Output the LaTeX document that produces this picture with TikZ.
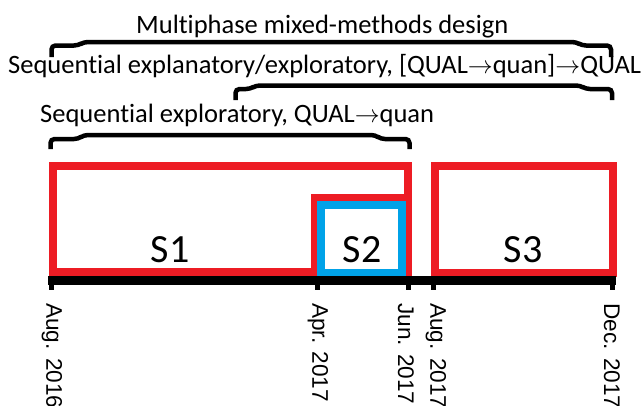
\documentclass[tikz,border=0pt]{standalone}
\usepackage{fontspec}
\setmainfont{Carlito}[Ligatures={NoCommon}]
\newfontfamily\datefont{Liberation Sans}
\definecolor{paintRed}{RGB}{237,28,36}
\definecolor{paintBlue}{RGB}{0,162,232}
\tikzset{
    heading/.style={inner sep=0pt, anchor=base west, font=\fontsize{26.5}{31}\selectfont},
    bracket/.style={line width=4.5pt, rounded corners=4pt},
    phase/.style={line width=8pt, paintRed},
    phaseTwo/.style={line width=8pt, paintBlue},
    stage/.style={inner sep=0pt, anchor=base, font=\fontsize{40}{48}\selectfont},
    datetick/.style={line width=5pt},
    datelabel/.style={inner sep=0pt, anchor=west, rotate=-90, font=\datefont\fontsize{22.6}{27}\selectfont}
}

\begin{document}
\begin{tikzpicture}[x=1pt, y=-1pt]
        \useasboundingbox (0,0) rectangle (641,405);
        % designs
        \node[heading] (multi) at (136,33) {Multiphase mixed-methods design};
        \draw[bracket] (51.5,57) -- (51.5,45.5) -- (78,45.5) -- (84,42) -- (576,42) -- (582,45.5) -- (611,45.5) -- (611,57);
        \node[heading] (explan) at (8,73) {Sequential explanatory/exploratory, [QUAL$\rightarrow$quan]$\rightarrow$QUAL};
        \draw[bracket] (235.5,100) -- (235.5,89) -- (250,89) -- (256,85.5) -- (580,85.5) -- (586,89) -- (612,89) -- (612,100);
        \node[heading] (explor) at (40,122) {Sequential exploratory, QUAL$\rightarrow$quan};
        \draw[bracket] (50.5,149) -- (50.5,139) -- (78,139) -- (84,135) -- (375,135) -- (381,139) -- (409.5,139) -- (409.5,149);

        % stage 1
        \draw[phase] (318,272) -- (52.5,272) -- (52.5,165.5) -- (408,165.5) -- (408,276);
        \draw[phase] (314.5,276) -- (314.5,197.5) -- (408,197.5);
        \node[stage] (s1) at (170,262) {S1};
        % stage 2
        \draw[phaseTwo] (321,205) rectangle (401.5,272.5);
        \node[stage] (s2) at (362,262) {S2};
        % stage 3
        \draw[phase] (434.7,165.7) rectangle (612.7,272.7);
        \node[stage] (s3) at (523,262) {S3};

        % time line
        \fill (48,276) rectangle (616,285);
        \draw[datetick] (51.5,280) -- (51.5,290);
        \draw[datetick] (317,280) -- (317,290);
        \draw[datetick] (408,280) -- (408,290);
        \draw[datetick] (433.5,280) -- (433.5,290);
        \draw[datetick] (612.5,280) -- (612.5,290);
        \node[datelabel] (aug16) at (52,303) {Aug. 2016};
        \node[datelabel] (apr17) at (318,303) {Apr. 2017};
        \node[datelabel] (jun17) at (406,303) {Jun. 2017};
        \node[datelabel] (aug17) at (436,303) {Aug. 2017};
        \node[datelabel] (dec17) at (612,303) {Dec. 2017};
\end{tikzpicture}
\end{document}
